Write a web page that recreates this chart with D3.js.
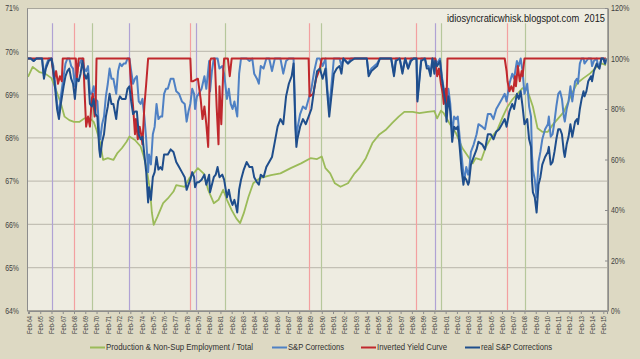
<!DOCTYPE html>
<html><head><meta charset="utf-8">
<script src="https://cdn.jsdelivr.net/npm/d3@7"></script>
<style>
html,body{margin:0;padding:0;background:#ddd9c3;}
svg{display:block;font-family:"Liberation Sans",Arial,sans-serif;}
</style></head><body>
<svg id="c" width="640" height="359"></svg>
<script>
// ---------- DATA ----------
const prodDates = ["1964-01","1964-06","1965-01","1965-07","1966-02","1966-07","1966-12","1967-04","1967-09","1968-02","1968-08","1969-01","1969-07","1969-11","1970-02","1970-06","1970-09","1971-02","1971-08","1971-12","1972-05","1972-10","1973-01","1973-07","1974-01","1974-04","1974-07","1974-11","1975-01","1975-03","1975-07","1976-01","1976-06","1976-12","1977-03","1977-12","1978-05","1978-11","1979-02","1979-08","1980-01","1980-07","1980-12","1981-05","1981-09","1982-02","1982-07","1982-11","1983-03","1983-08","1984-01","1984-08","1985-08","1986-06","1987-05","1988-04","1989-02","1989-09","1990-02","1990-06","1990-11","1991-04","1991-10","1992-06","1993-01","1993-06","1994-01","1994-08","1995-03","1995-10","1996-05","1996-12","1997-06","1998-03","1998-10","1999-07","2000-02","2000-05","2000-09","2000-12","2001-06","2002-01","2002-08","2003-02","2003-07","2003-10","2004-04","2004-09","2005-02","2005-09","2006-03","2006-08","2007-01","2007-07","2007-12","2008-05","2008-11","2009-04","2009-09","2010-03","2010-08","2011-02","2011-08","2012-03","2012-10","2013-05","2013-12","2014-07","2014-12","2015-05"];
const prodValues = [69.41,69.64,69.52,69.49,69.38,69.10,68.80,68.49,68.41,68.37,68.37,68.45,68.45,68.37,68.18,67.88,67.49,67.53,67.49,67.64,67.76,67.91,68.03,67.95,67.80,67.60,67.34,66.80,66.27,65.99,66.18,66.49,66.60,66.76,66.91,66.87,67.07,67.22,67.30,67.18,66.80,66.49,66.57,66.80,66.57,66.33,66.14,66.03,66.26,66.64,66.95,67.07,67.14,67.18,67.30,67.41,67.53,67.51,67.57,67.30,67.18,66.95,66.87,66.95,67.18,67.30,67.53,67.88,68.07,68.18,68.34,68.49,68.60,68.60,68.57,68.60,68.62,68.45,68.63,68.57,68.34,68.11,67.76,67.57,67.41,67.53,67.49,67.80,67.99,68.18,68.49,68.72,68.88,69.03,69.15,69.11,68.72,68.22,68.14,68.14,68.30,68.45,68.60,68.95,69.26,69.38,69.49,69.64,69.72,69.68];

const spDates = ["1964-01","1964-04","1964-07","1964-10","1965-01","1965-04","1965-06","1965-08","1965-11","1966-02","1966-04","1966-06","1966-08","1966-10","1966-12","1967-03","1967-05","1967-07","1967-09","1967-11","1968-01","1968-03","1968-05","1968-07","1968-09","1968-11","1969-01","1969-03","1969-05","1969-07","1969-09","1969-11","1970-01","1970-03","1970-05","1970-06","1970-08","1970-10","1970-12","1971-02","1971-04","1971-06","1971-08","1971-11","1972-01","1972-03","1972-05","1972-07","1972-09","1972-11","1973-01","1973-03","1973-05","1973-07","1973-09","1973-11","1974-01","1974-03","1974-05","1974-07","1974-09","1974-10","1974-12","1975-02","1975-04","1975-06","1975-08","1975-10","1975-12","1976-02","1976-04","1976-06","1976-09","1976-12","1977-03","1977-06","1977-09","1977-12","1978-02","1978-04","1978-06","1978-08","1978-10","1978-11","1979-01","1979-03","1979-06","1979-09","1979-11","1980-02","1980-03","1980-05","1980-07","1980-09","1980-11","1981-01","1981-04","1981-06","1981-09","1981-11","1982-01","1982-03","1982-05","1982-07","1982-08","1982-10","1982-12","1983-03","1983-06","1983-09","1983-12","1984-02","1984-05","1984-07","1984-09","1984-12","1985-03","1985-06","1985-09","1985-12","1986-03","1986-06","1986-09","1986-12","1987-03","1987-06","1987-08","1987-10","1987-11","1987-12","1988-03","1988-06","1988-09","1988-12","1989-03","1989-06","1989-09","1989-12","1990-03","1990-06","1990-08","1990-10","1990-12","1991-03","1991-06","1991-09","1991-11","1992-01","1992-06","1992-09","1993-01","1993-06","1993-10","1994-02","1994-04","1994-07","1994-10","1995-01","1995-04","1995-08","1995-12","1996-04","1996-07","1996-09","1997-01","1997-04","1997-07","1997-10","1998-01","1998-04","1998-07","1998-08","1998-10","1998-12","1999-04","1999-06","1999-08","1999-10","1999-12","2000-02","2000-03","2000-05","2000-08","2000-10","2000-12","2001-02","2001-03","2001-05","2001-07","2001-09","2001-11","2002-01","2002-03","2002-05","2002-07","2002-09","2002-10","2002-12","2003-02","2003-03","2003-05","2003-08","2003-11","2004-01","2004-05","2004-08","2004-11","2005-02","2005-05","2005-08","2005-11","2006-02","2006-05","2006-07","2006-10","2007-01","2007-03","2007-06","2007-08","2007-10","2007-12","2008-02","2008-05","2008-07","2008-09","2008-10","2008-11","2009-01","2009-03","2009-05","2009-07","2009-09","2009-12","2010-03","2010-04","2010-06","2010-08","2010-10","2010-12","2011-02","2011-04","2011-06","2011-08","2011-09","2011-11","2012-01","2012-03","2012-05","2012-08","2012-10","2012-11","2013-01","2013-03","2013-05","2013-06","2013-08","2013-10","2014-01","2014-02","2014-04","2014-07","2014-08","2014-10","2014-12","2015-02","2015-04","2015-05"];
const spValues = [100,100,99,100,100,100,93,97,100,100,97,90,82,78,85,93,98,100,100,97,96,89,98,97,99,100,96,95,97,86,86,89,84,83,70,68,74,77,85,90,96,92,92,86,95,98,97,98,98,100,100,95,90,92,93,83,82,84,77,68,55,62,58,70,73,82,76,77,77,86,88,88,92,92,87,86,83,82,75,79,82,88,86,80,85,86,88,93,88,99,87,95,100,100,100,96,97,94,84,88,82,80,83,79,77,94,100,100,100,99,100,94,92,90,97,96,100,100,95,100,100,100,94,99,100,100,100,75,68,72,78,81,80,84,88,95,100,100,97,100,88,80,88,100,100,100,97,100,98,100,100,100,100,100,94,96,97,98,100,100,100,100,94,100,100,95,100,96,100,100,100,84,92,100,100,97,97,94,100,95,100,98,100,93,88,84,77,88,82,70,77,76,77,69,62,54,52,57,54,55,63,66,70,74,73,72,78,78,76,80,82,84,86,83,90,94,92,99,97,100,95,86,90,81,77,62,56,52,45,59,63,68,72,74,77,69,70,75,81,86,87,84,77,75,80,83,89,83,91,92,90,98,100,100,98,99,100,100,97,99,100,98,97,100,100,98,100];

const realDates = spDates;
const realValues = [100,100,99,100,100,100,92,96,99,100,95,88,80,76,82,89,93,95,96,92,90,84,92,91,94,99,94,92,94,82,81,84,78,77,64,61,67,70,77,81,86,82,82,76,83,85,84,84,84,88,89,83,78,79,79,70,68,69,62,55,43,49,44,53,55,61,56,57,56,62,62,62,64,63,59,57,55,53,48,50,52,55,53,49,51,51,52,54,50,54,47,50,53,54,57,53,54,52,45,48,44,42,44,41,39,48,52,56,59,57,57,53,51,50,54,53,57,59,61,67,73,76,74,85,90,93,98,72,65,68,73,76,74,77,80,88,95,96,92,96,86,77,84,94,96,97,94,100,98,99,100,100,100,100,93,95,96,97,100,100,100,100,93,99,100,94,100,96,99,100,100,83,91,99,100,96,96,93,100,94,99,97,99,92,87,82,75,85,79,67,73,72,73,65,56,50,53,52,50,51,58,61,64,67,66,64,70,70,68,71,72,74,76,73,79,82,80,86,84,87,81,74,76,68,65,52,47,45,39,50,53,58,61,63,65,58,59,63,68,72,72,70,63,61,66,69,74,69,75,76,74,80,84,87,85,87,91,93,91,95,98,97,96,100,100,98,100];

const yieldDates = ["1964-01","1966-02","1966-03","1966-05","1966-07","1966-09","1966-11","1967-01","1967-02","1968-04","1968-05","1968-06","1968-07","1968-12","1969-01","1969-03","1969-05","1969-07","1969-09","1969-10","1969-12","1970-01","1970-02","1973-01","1973-02","1973-05","1973-07","1973-08","1973-10","1973-12","1974-02","1974-03","1974-05","1974-07","1974-09","1978-06","1978-07","1978-09","1979-02","1979-05","1979-07","1979-09","1979-11","1980-01","1980-03","1980-04","1980-05","1980-08","1980-10","1980-12","1981-01","1981-03","1981-05","1981-06","1981-10","1981-12","1982-02","1988-12","1989-01","1989-05","1989-08","1989-12","1990-02","2000-03","2000-05","2000-07","2000-09","2000-11","2000-12","2001-02","2001-03","2001-04","2006-05","2006-07","2006-08","2006-10","2006-12","2007-02","2007-04","2007-05","2007-07","2007-09","2007-11","2007-12","2008-02","2015-05"];
const yieldValues = [100,100,97,92,95,90,93,91,100,100,92,95,100,100,89,73,77,73,84,86,77,80,100,100,94,81,70,76,68,73,69,66,81,90,100,100,91,91,92,84,76,81,74,65,99,100,100,100,81,66,89,74,94,100,100,93,100,100,85,86,92,96,100,100,93,96,90,86,82,88,82,100,100,95,91,87,89,87,93,89,97,91,95,93,100,100];

const eventDates = ["1966-03","1968-02","1969-09","1973-01","1978-06","1978-12","1981-07","1988-12","1990-01","1998-06","2000-03","2000-09","2006-07","2008-03"];
const eventKinds = ["p","r","g","p","r","p","g","r","g","r","p","g","r","g"];

const leftTicks = [64,65,66,67,68,69,70,71];
const rightTicks = [0,20,40,60,80,100,120];
const tickYears = d3.range(1964, 2016);
const seriesNames = ["Production & Non-Sup Employment / Total","S&P Corrections","Inverted Yield Curve","real S&P Corrections"];
const watermark = "idiosyncraticwhisk.blogspot.com  2015";

// ---------- CHART ----------
const parse = d3.timeParse("%Y-%m");
const svg = d3.select("#c");
const L = 27, R = 608, T = 8, B = 311;
const x = d3.scaleTime().domain([parse("1964-01"), parse("2015-06")]).range([28, 607]);
const yL = d3.scaleLinear().domain([64, 71]).range([B, T]);
const yR = d3.scaleLinear().domain([0, 120]).range([B, T]);

svg.append("rect").attr("x",0).attr("y",0).attr("width",640).attr("height",359).attr("fill","#ddd9c3");
svg.append("rect").attr("x",L).attr("y",T).attr("width",R-L).attr("height",B-T).attr("fill","#eeece1");

svg.append("defs").append("clipPath").attr("id","clip").append("rect")
  .attr("x",L).attr("y",T-2).attr("width",R-L).attr("height",B-T+2);

// gridlines
svg.append("g").selectAll("line").data(leftTicks.slice(1,-1)).join("line")
  .attr("x1",L).attr("x2",R).attr("y1",d=>yL(d)).attr("y2",d=>yL(d))
  .attr("stroke","#c3c0b5").attr("stroke-width",1.3);

// event vertical lines
const evColor = {p:"#b0a2d4", r:"#f3a0a0", g:"#b6c79b"};
svg.append("g").selectAll("line").data(eventDates).join("line")
  .attr("x1",d=>Math.round(x(parse(d)))+0.5).attr("x2",d=>Math.round(x(parse(d)))+0.5)
  .attr("y1",yR(114)).attr("y2",B)
  .attr("stroke",(d,i)=>evColor[eventKinds[i]]).attr("stroke-width",1.2);

// border
svg.append("rect").attr("x",L+0.5).attr("y",T+0.5).attr("width",R-L-1).attr("height",B-T-1)
  .attr("fill","none").attr("stroke","#a8a69c").attr("stroke-width",1);

const g = svg.append("g").attr("clip-path","url(#clip)");
function series(dates, vals, scale, color, w){
  const pts = dates.map((d,i)=>[parse(d), vals[i]]);
  g.append("path").datum(pts)
    .attr("d", d3.line().x(p=>x(p[0])).y(p=>scale(p[1])))
    .attr("fill","none").attr("stroke",color).attr("stroke-width",w)
    .attr("stroke-linejoin","round");
}
const colors = ["#9bbb59","#4f81c4","#c0282d","#1f4e8c"];
series(prodDates, prodValues, yL, colors[0], 1.8);
series(spDates, spValues, yR, colors[1], 2);
series(yieldDates, yieldValues, yR, colors[2], 2);
series(realDates, realValues, yR, colors[3], 2);

// axes
const la = svg.append("g").attr("transform",`translate(${L},0)`)
  .call(d3.axisLeft(yL).tickValues(leftTicks).tickSize(0).tickPadding(8).tickFormat(d=>d+"%"));
const ra = svg.append("g").attr("transform",`translate(${R},0)`)
  .call(d3.axisRight(yR).tickValues(rightTicks).tickSize(0).tickPadding(3).tickFormat(d=>d+"%"));
[la, ra].forEach(a=>{
  a.select(".domain").attr("stroke","#8c8c8c");
  a.selectAll("text").attr("font-family",null).attr("font-size",8.5).attr("fill","#404040")
    .attr("lengthAdjust","spacingAndGlyphs").attr("textLength",function(){return this.textContent.length*4.6;});
});
// inward right ticks
svg.append("g").selectAll("line").data(rightTicks).join("line")
  .attr("x1",R-3).attr("x2",R).attr("y1",d=>yR(d)+0.5).attr("y2",d=>yR(d)+0.5).attr("stroke","#8c8c8c");

const ba = svg.append("g").attr("transform",`translate(0,${B})`)
  .call(d3.axisBottom(x).tickValues(tickYears.map(yv=>new Date(yv,1,1))).tickSize(3)
        .tickFormat(d3.timeFormat("%b-%y")));
ba.select(".domain").attr("stroke","#8c8c8c");
ba.selectAll(".tick line").attr("stroke","#8c8c8c");
ba.selectAll("text").attr("font-family",null).attr("font-size",7).attr("fill","#404040")
  .attr("lengthAdjust","spacingAndGlyphs").attr("textLength",18)
  .attr("transform","rotate(-90)").attr("x",-5).attr("y",0).attr("dy","0.35em").style("text-anchor","end");

// watermark
svg.append("text").attr("x",447).attr("y",22).attr("font-size",10.5).attr("fill","#1a1a1a")
  .attr("lengthAdjust","spacingAndGlyphs").attr("textLength",158)
  .style("white-space","pre").text(watermark);

// legend
const legX = [90, 272, 361, 465];
const legW = [147, 56, 70, 71];
const leg = svg.append("g");
seriesNames.forEach((n,i)=>{
  leg.append("line").attr("x1",legX[i]).attr("x2",legX[i]+15).attr("y1",347.5).attr("y2",347.5)
    .attr("stroke",colors[i]).attr("stroke-width",2);
  leg.append("text").attr("x",legX[i]+16).attr("y",347).attr("dy","0.35em").attr("font-size",9)
    .attr("fill","#303030").attr("lengthAdjust","spacingAndGlyphs").attr("textLength",legW[i]).text(n);
});
</script>
</body></html>
